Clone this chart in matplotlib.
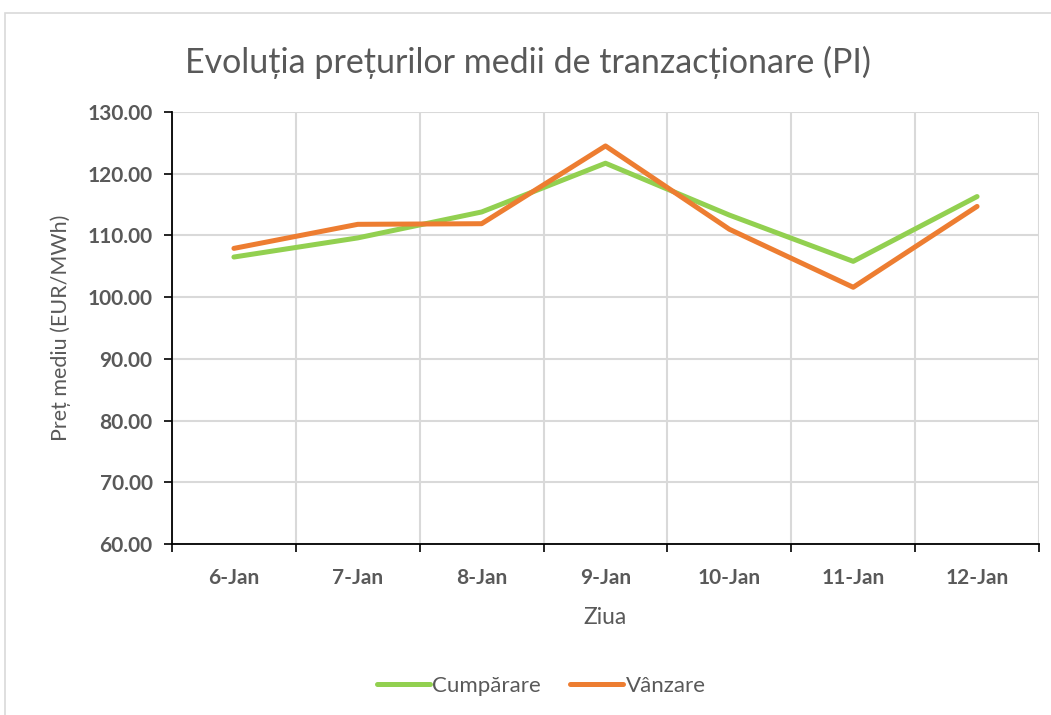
import matplotlib
matplotlib.use("Agg")
import matplotlib.pyplot as plt
from matplotlib.patches import Rectangle
from matplotlib.ticker import FixedLocator, FixedFormatter

plt.rcParams['font.family'] = ['Lato', 'Open Sans', 'DejaVu Sans']

days = ["6-Jan", "7-Jan", "8-Jan", "9-Jan", "10-Jan", "11-Jan", "12-Jan"]
cumparare = [106.5, 109.6, 113.8, 121.7, 113.3, 105.8, 116.3]
vanzare = [107.9, 111.8, 111.9, 124.5, 111.0, 101.6, 114.7]
y_ticks = [60, 70, 80, 90, 100, 110, 120, 130]

TXT = "#595959"
W, H = 1051, 715
fig = plt.figure(figsize=(W / 100, H / 100), dpi=100)
fig.patches.append(Rectangle((5 / W, -0.01), 1.1, 1 - 13 / H + 0.01, transform=fig.transFigure,
                             fill=False, edgecolor="#d9d9d9", linewidth=1.2))

ax = fig.add_axes([172 / W, (H - 544) / H, (1039 - 172) / W, (544 - 112) / H])
x = list(range(len(days)))
ax.plot(x, cumparare, color="#92D050", lw=3.6, solid_capstyle="round", solid_joinstyle="round",
        label="Cumpărare", zorder=3)
ax.plot(x, vanzare, color="#ED7D31", lw=3.6, solid_capstyle="round", solid_joinstyle="round",
        label="Vânzare", zorder=3)

ax.set_xlim(-0.5, len(days) - 0.5)
ax.set_ylim(60, 130)
ax.set_yticks(y_ticks)
ax.set_yticklabels([f"{v:.2f}" for v in y_ticks], fontsize=15, fontweight="bold", color=TXT)

bounds = [i - 0.5 for i in range(len(days) + 1)]
ax.xaxis.set_major_locator(FixedLocator(bounds))
ax.xaxis.set_major_formatter(FixedFormatter([""] * len(bounds)))
ax.xaxis.set_minor_locator(FixedLocator(x))
ax.xaxis.set_minor_formatter(FixedFormatter(days))
ax.tick_params(axis="x", which="minor", length=0, pad=17, labelsize=15, labelcolor=TXT)
for lab in ax.get_xticklabels(minor=True):
    lab.set_fontweight("bold")
ax.tick_params(axis="x", which="major", length=6, width=1.2, color="black", direction="out")
ax.tick_params(axis="y", length=6, width=1.2, color="black", direction="out", pad=8)

ax.grid(True, which="major", color="#d9d9d9", lw=1.5, zorder=0)
ax.set_axisbelow(True)
for s in ["top", "right"]:
    ax.spines[s].set_visible(False)
for s in ["left", "bottom"]:
    ax.spines[s].set_color("black")
    ax.spines[s].set_linewidth(1.3)
    ax.spines[s].set_zorder(4)

ax.set_xlabel("Ziua", fontsize=16.5, color=TXT, labelpad=14)
ax.set_ylabel("Preț mediu (EUR/MWh)", fontsize=15.5, color=TXT, labelpad=12)

fig.text(0.5 + 5 / W / 2, 1 - 62 / H, "Evoluția prețurilor medii de tranzacționare (PI)",
         ha="center", va="center", fontsize=24.5, color=TXT)

fig.legend(loc="center", bbox_to_anchor=(0.515, 1 - 686 / H), ncol=2, frameon=False,
           fontsize=16, labelcolor=TXT, handlelength=2.4, handletextpad=0.1, columnspacing=1.3)

fig.savefig("out.png", dpi=100, facecolor="white")
